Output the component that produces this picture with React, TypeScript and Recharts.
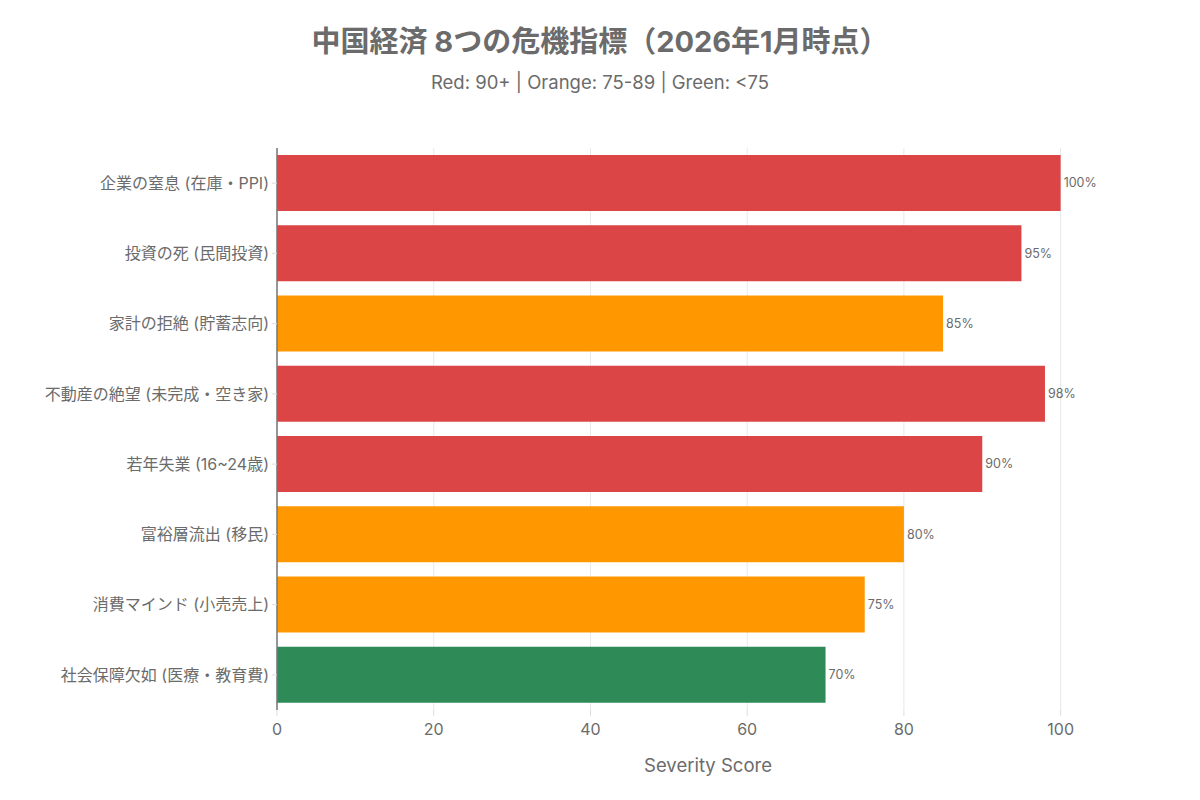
import React from 'react';
import {
  BarChart,
  Bar,
  XAxis,
  YAxis,
  CartesianGrid,
  Cell,
  LabelList,
} from 'recharts';

const CATEGORIES = [
  '企業の窒息 (在庫・PPI)',
  '投資の死 (民間投資)',
  '家計の拒絶 (貯蓄志向)',
  '不動産の絶望 (未完成・空き家)',
  '若年失業 (16~24歳)',
  '富裕層流出 (移民)',
  '消費マインド (小売売上)',
  '社会保障欠如 (医療・教育費)',
];

const SCORES = [100, 95, 85, 98, 90, 80, 75, 70];

const X_TICKS = [0, 20, 40, 60, 80, 100];
const X_MAX = 110;

const RED = '#DB4545';
const ORANGE = '#FF9800';
const GREEN = '#2E8B57';

const FONT = "Inter, 'Noto Sans CJK JP', 'Noto Sans', sans-serif";

const colorFor = (v: number) => (v >= 90 ? RED : v >= 75 ? ORANGE : GREEN);

const data = CATEGORIES.map((name, i) => ({ name, score: SCORES[i] }));

// grid only at the labelled ticks, not at the domain end
const gridX = (props: any) => {
  const { offset } = props;
  if (!offset) return [];
  return X_TICKS.map((t) => offset.left + (t / X_MAX) * offset.width);
};

const App: React.FC = () => {
  return (
    <div
      style={{
        position: 'absolute',
        left: 0,
        top: 0,
        width: 1200,
        height: 800,
        background: '#fff',
        fontFamily: FONT,
      }}
    >
      <div
        style={{
          position: 'absolute',
          top: 23,
          width: 1200,
          textAlign: 'center',
          fontSize: 29,
          fontWeight: 700,
          color: '#6b6b6b',
          lineHeight: '38px',
        }}
      >
        中国経済 8つの危機指標（2026年1月時点）
      </div>
      <div
        style={{
          position: 'absolute',
          top: 70,
          width: 1200,
          textAlign: 'center',
          fontSize: 18.5,
          color: '#6b6b6b',
          lineHeight: '24px',
        }}
      >
        Red: 90+ | Orange: 75-89 | Green: &lt;75
      </div>
      <BarChart
        width={1200}
        height={800}
        data={data}
        layout="vertical"
        margin={{ top: 148, right: 61, bottom: 20, left: 0 }}
        barCategoryGap="10%"
        style={{ position: 'absolute', left: 0, top: 0 }}
      >
        <CartesianGrid
          horizontal={false}
          stroke="#e8e8e8"
          verticalCoordinatesGenerator={gridX}
        />
        <XAxis
          type="number"
          domain={[0, X_MAX]}
          ticks={X_TICKS}
          axisLine={false}
          tickLine={{ stroke: '#dddddd' }}
          tickSize={6}
          tickMargin={8}
          height={70}
          tick={{ fill: '#6b6b6b', fontSize: 16, fontFamily: FONT }}
          label={{
            value: 'Severity Score',
            position: 'insideBottom',
            offset: 8,
            fill: '#6b6b6b',
            fontSize: 18.5,
            fontFamily: FONT,
          }}
        />
        <YAxis
          type="category"
          dataKey="name"
          width={277}
          axisLine={{ stroke: '#777777', strokeWidth: 1.5 }}
          tickLine={{ stroke: '#dddddd' }}
          tickSize={5}
          tickMargin={3}
          tick={{ fill: '#6b6b6b', fontSize: 16, fontFamily: FONT }}
          interval={0}
        />
        <Bar dataKey="score" isAnimationActive={false}>
          {data.map((entry, index) => (
            <Cell key={`cell-${index}`} fill={colorFor(entry.score)} />
          ))}
          <LabelList
            dataKey="score"
            position="right"
            offset={3}
            formatter={(v: any) => `${v}%`}
            style={{ fill: '#6b6b6b', fontSize: 12.5, fontFamily: FONT }}
          />
        </Bar>
      </BarChart>
    </div>
  );
};

export default App;
